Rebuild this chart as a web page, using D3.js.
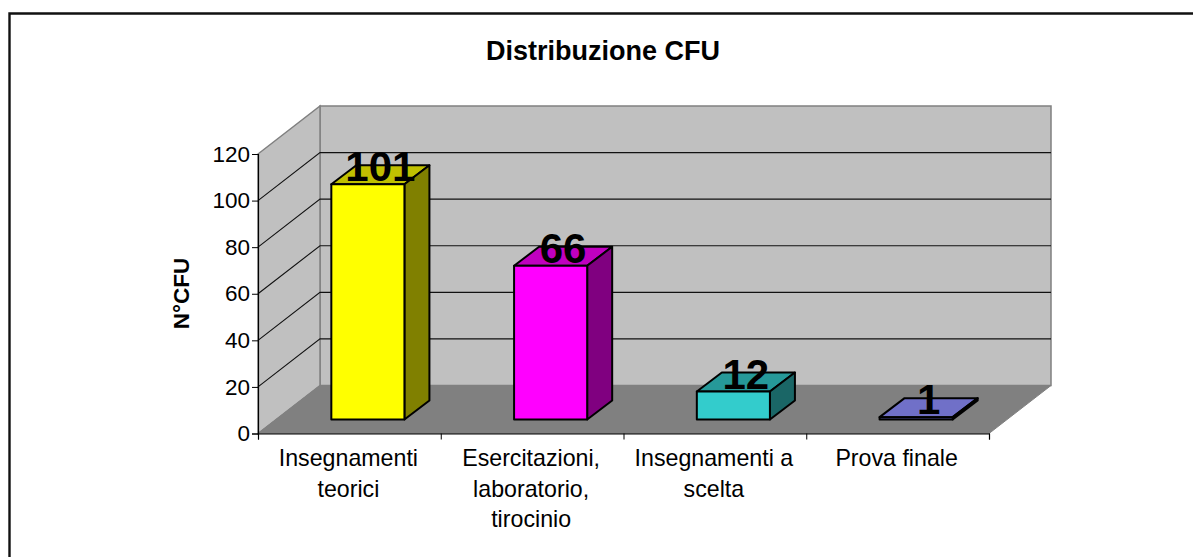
<!DOCTYPE html>
<html>
<head>
<meta charset="utf-8">
<script src="https://cdn.jsdelivr.net/npm/d3@7"></script>
<style>
  html, body { margin: 0; padding: 0; background: #fff; overflow: hidden; }
  text { font-family: "Liberation Sans", Arial, sans-serif; fill: #000; }
</style>
</head>
<body>
<svg id="chart" width="1193" height="557"></svg>
<script>
// Chart values
const categories = ['Insegnamenti teorici', 'Esercitazioni, laboratorio, tirocinio', 'Insegnamenti a scelta', 'Prova finale'];
const categoryLines = [['Insegnamenti', 'teorici'], ['Esercitazioni,', 'laboratorio,', 'tirocinio'], ['Insegnamenti a', 'scelta'], ['Prova finale']];
const values = [101, 66, 12, 1];
const yTicks = [0, 20, 40, 60, 80, 100, 120];

// Face colours per bar: front, top, side
const frontColors = ['#ffff00', '#ff00ff', '#33cccc', '#8080ff'];
const topColors = ['#c0c000', '#c000c0', '#269999', '#7070c8'];
const sideColors = ['#808000', '#800080', '#1a6666', '#404080'];

const svg = d3.select('#chart');

// Plot geometry: front plane of the box + depth offset to the back wall
const plotLeft = 258, plotRight = 989, plotBottom = 433.5, plotTop = 154;
const depthX = 62, depthY = -48;
const barDepthX = 25, barDepthY = -19;   // depth of one bar
const barOffX = 18.5, barOffY = -14;     // bar front sits this far into the box

const x = d3.scaleBand().domain(categories).range([plotLeft, plotRight]).paddingInner(0.6).paddingOuter(0.3);
const y = d3.scaleLinear().domain([0, 120]).range([plotBottom, plotTop]);

const poly = pts => 'M' + pts.map(p => p.join(',')).join('L') + 'Z';

// Outer frame (only top and left show in the picture)
svg.append('path').attr('d', 'M9.5,557V13.5H1193').attr('fill', 'none')
  .attr('stroke', '#111').attr('stroke-width', 2.4);

// ── Walls and floor ─────────────────────────────────────────
svg.append('path')
  .attr('d', poly([[plotLeft + depthX, y(120) + depthY], [plotRight + depthX, y(120) + depthY], [plotRight + depthX, y(0) + depthY], [plotLeft + depthX, y(0) + depthY]]))
  .attr('fill', '#c0c0c0').attr('stroke', '#808080').attr('stroke-width', 1.5);

svg.append('path')
  .attr('d', poly([[plotLeft, y(120)], [plotLeft + depthX, y(120) + depthY], [plotLeft + depthX, y(0) + depthY], [plotLeft, y(0)]]))
  .attr('fill', '#c0c0c0').attr('stroke', '#808080').attr('stroke-width', 1.5);

svg.append('path')
  .attr('d', poly([[plotLeft, y(0)], [plotLeft + depthX, y(0) + depthY], [plotRight + depthX, y(0) + depthY], [plotRight, y(0)]]))
  .attr('fill', '#808080').attr('stroke', '#808080').attr('stroke-width', 1);

// Gridlines run along the left wall, then the back wall
yTicks.filter(d => d > 0 && d < 120).forEach(d => {
  svg.append('path')
    .attr('d', `M${plotLeft},${y(d)}L${plotLeft + depthX},${y(d) + depthY}H${plotRight + depthX}`)
    .attr('fill', 'none').attr('stroke', '#111').attr('stroke-width', 1.1);
});

// ── Bars ────────────────────────────────────────────────────
values.forEach((v, i) => {
  const x0 = x(categories[i]) + barOffX;
  const x1 = x0 + x.bandwidth();
  const y0 = y(0) + barOffY;
  const y1 = y(v) + barOffY;
  const bar = svg.append('g').attr('stroke', '#000').attr('stroke-width', 2).attr('stroke-linejoin', 'round');
  bar.append('path').attr('fill', topColors[i])
    .attr('d', poly([[x0, y1], [x0 + barDepthX, y1 + barDepthY], [x1 + barDepthX, y1 + barDepthY], [x1, y1]]));
  bar.append('path').attr('fill', sideColors[i])
    .attr('d', poly([[x1, y1], [x1 + barDepthX, y1 + barDepthY], [x1 + barDepthX, y0 + barDepthY], [x1, y0]]));
  bar.append('path').attr('fill', frontColors[i])
    .attr('d', poly([[x0, y1], [x1, y1], [x1, y0], [x0, y0]]));
});

// Value labels
values.forEach((v, i) => {
  svg.append('text')
    .attr('x', x(categories[i]) + barOffX + x.bandwidth() / 2 + barDepthX / 2)
    .attr('y', y(v) + barOffY - 3)
    .attr('text-anchor', 'middle')
    .attr('font-size', 42).attr('font-weight', 'bold')
    .text(v);
});

// ── Axes ────────────────────────────────────────────────────
const yAxis = svg.append('g').attr('transform', `translate(${plotLeft},0)`)
  .call(d3.axisLeft(y).tickValues(yTicks).tickSize(6).tickPadding(2));
yAxis.select('.domain').attr('stroke', '#000').attr('stroke-width', 1.2);
yAxis.selectAll('.tick line').attr('stroke', '#000');
yAxis.selectAll('text').attr('font-size', 22.5).attr('font-family', null);

// x axis: ticks sit on category boundaries
const xEdges = d3.scaleLinear().domain([0, categories.length]).range([plotLeft, plotRight]);
const xAxis = svg.append('g').attr('transform', `translate(0,${plotBottom})`)
  .call(d3.axisBottom(xEdges).tickValues(d3.range(categories.length + 1)).tickSize(6).tickFormat(''));
xAxis.select('.domain').attr('stroke', '#000').attr('stroke-width', 1.2);
xAxis.selectAll('.tick line').attr('stroke', '#000');

categoryLines.forEach((lines, i) => {
  lines.forEach((line, j) => {
    svg.append('text')
      .attr('x', xEdges(i + 0.5) - 1)
      .attr('y', 466 + j * 30.5)
      .attr('text-anchor', 'middle')
      .attr('font-size', 23.2)
      .text(line);
  });
});

// ── Titles ──────────────────────────────────────────────────
svg.append('text')
  .attr('x', 603).attr('y', 59.5)
  .attr('text-anchor', 'middle')
  .attr('font-size', 27).attr('font-weight', 'bold')
  .text('Distribuzione CFU');

svg.append('text')
  .attr('transform', 'translate(189,293.5) rotate(-90)')
  .attr('text-anchor', 'middle')
  .attr('font-size', 22.5).attr('font-weight', 'bold')
  .text('N°CFU');
</script>
</body>
</html>
